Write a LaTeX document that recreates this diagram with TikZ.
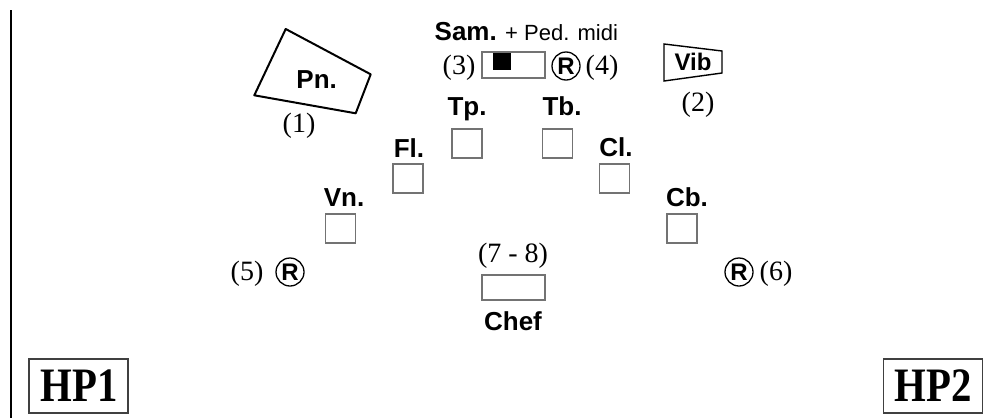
\documentclass[tikz,border=0pt]{standalone}
\usepackage{fontspec}
\setmainfont{Liberation Serif}
\setsansfont{Liberation Sans}
\begin{document}
\begin{tikzpicture}[x=1pt,y=-1pt,
  lbl/.style={font=\fontsize{26}{26}\selectfont\sffamily\bfseries, inner sep=0pt, anchor=base},
  small/.style={font=\fontsize{22}{22}\selectfont\sffamily, inner sep=0pt, anchor=base},
  num/.style={font=\fontsize{28}{28}\selectfont, inner sep=0pt, anchor=base},
  seat/.style={draw=black!55, line width=1.2pt, minimum width=30pt, minimum height=29pt, inner sep=0pt},
  recv/.style={draw=black, circle, line width=1.3pt, minimum size=28pt, inner sep=0pt, font=\fontsize{24}{24}\selectfont\sffamily\bfseries},
  hp/.style={draw=black!75, line width=1.4pt, minimum width=99pt, minimum height=54pt, inner sep=0pt},
  hptext/.style={font=\fontsize{48}{48}\selectfont\bfseries, inner sep=0pt, anchor=base}
]
\useasboundingbox (0,0) rectangle (992,418);
% left border line
\coordinate (lt) at (11,10);
\coordinate (lb) at (11,418);
\draw[line width=2pt] (lt) -- (lb);

% Piano
\draw[line width=2pt, line join=round] (285.7,29) -- (370.7,74.3) -- (355.7,113.3) -- (254.3,95.3) -- cycle;
\node[lbl] (pn) at (316.7,88) {Pn.};
\node[num] (n1) at (299,132.5) {(1)};

% Sampler
\node[lbl, anchor=base east] (sam) at (497,40.5) {Sam.};
\node[small, anchor=base west] (ped) at (505,40) {+ Ped. midi};
\node[draw=black!55, line width=1.2pt, minimum width=63pt, minimum height=26pt, inner sep=0pt] (samkb) at (513.5,65) {};
\node[fill=black, minimum width=18pt, minimum height=17pt, inner sep=0pt] (samsq) at (502,61.5) {};
\node[num] (n3) at (459,74) {(3)};
\node[recv] (r4) at (566,66) {R};
\node[num] (n4) at (602,74) {(4)};

% Vibraphone
\draw[line width=1.4pt] (664,44) -- (722,51) -- (722,73) -- (664,81) -- cycle;
\node[lbl, font=\fontsize{24}{24}\selectfont\sffamily\bfseries] (vib) at (693,70) {Vib};
\node[num] (n2) at (698,111) {(2)};

% Players
\node[lbl] (tpl) at (467,115) {Tp.};
\node[seat] (tp) at (467,143.5) {};
\node[lbl] (tbl) at (562,115) {Tb.};
\node[seat] (tb) at (557.5,143.5) {};
\node[lbl] (fll) at (409,157) {Fl.};
\node[seat] (fl) at (408,178.5) {};
\node[lbl] (cll) at (616,156) {Cl.};
\node[seat] (cl) at (614.5,178.5) {};
\node[lbl] (vnl) at (344,206) {Vn.};
\node[seat] (vn) at (340.5,228.5) {};
\node[lbl] (cbl) at (687,206) {Cb.};
\node[seat] (cb) at (682,228.5) {};

% Receivers 5 and 6
\node[num] (n5) at (247,280) {(5)};
\node[recv] (r5) at (290,272) {R};
\node[recv] (r6) at (739,272) {R};
\node[num] (n6) at (776,280) {(6)};

% Conductor
\node[num] (n78) at (513,262) {(7 - 8)};
\node[draw=black!55, line width=1.2pt, minimum width=63pt, minimum height=25pt, inner sep=0pt] (chefbox) at (513.5,287.5) {};
\node[lbl] (chef) at (513,330) {Chef};

% Loudspeakers
\node[hp] (hp1) at (78.5,386) {};
\node[hptext] (hp1t) at (79,401) {\scalebox{0.85}[1]{HP1}};
\node[hp] (hp2) at (933,386) {};
\node[hptext] (hp2t) at (933,401) {\scalebox{0.85}[1]{HP2}};
\end{tikzpicture}
\end{document}
